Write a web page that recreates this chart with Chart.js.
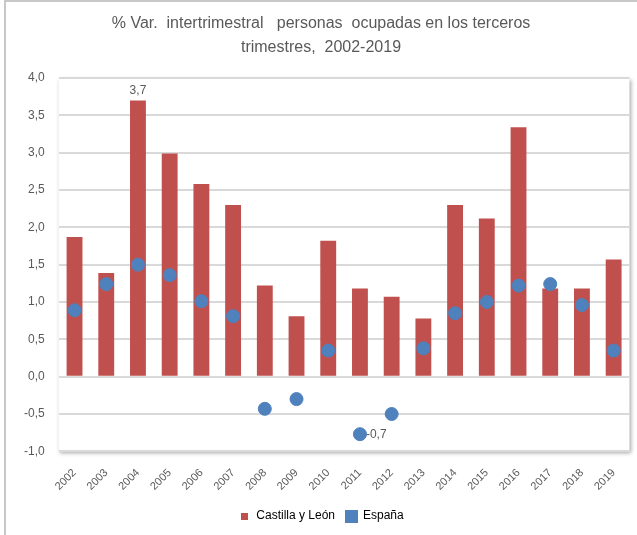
<!DOCTYPE html>
<html>
<head>
<meta charset="utf-8">
<script src="https://cdn.jsdelivr.net/npm/chart.js@4"></script>
<style>
  html, body { margin: 0; padding: 0; background: #fff; }
  #wrap { width: 637px; height: 535px; position: relative; }
</style>
</head>
<body>
<div id="wrap"><canvas id="chart" width="637" height="535"></canvas></div>
<script>
const years = ['2002', '2003', '2004', '2005', '2006', '2007', '2008', '2009', '2010',
  '2011', '2012', '2013', '2014', '2015', '2016', '2017', '2018', '2019'];
const castillaLeon = [1.87, 1.39, 3.70, 2.99, 2.58, 2.30, 1.22, 0.81, 1.82,
  1.18, 1.07, 0.78, 2.30, 2.12, 3.34, 1.18, 1.18, 1.57];
const espana = [0.89, 1.24, 1.50, 1.36, 1.01, 0.81, -0.43, -0.30, 0.35,
  -0.77, -0.50, 0.38, 0.85, 1.00, 1.22, 1.24, 0.96, 0.35];
const yTicks = [-1, -0.5, 0, 0.5, 1, 1.5, 2, 2.5, 3, 3.5, 4];

const colors = {
  bar: '#c0504d',
  dot: '#4f81bd',
  grid: '#d9d9d9',
  text: '#595959'
};

const fontFamily = '"Liberation Sans Narrow", "Liberation Sans", Arial, sans-serif';

function swatch(size, color) {
  const c = document.createElement('canvas');
  c.width = size;
  c.height = size;
  const ctx = c.getContext('2d');
  ctx.fillStyle = color;
  ctx.fillRect(0, 0, size, size);
  return c;
}

// frame, plot-area shadow and the two value labels
const decor = {
  id: 'decor',
  beforeDraw(chart) {
    const { ctx, chartArea: a } = chart;
    ctx.save();
    ctx.strokeStyle = '#c8c8c8';
    ctx.lineWidth = 2;
    ctx.beginPath();
    ctx.moveTo(5, 535);
    ctx.lineTo(5, 1);
    ctx.lineTo(637, 1);
    ctx.stroke();
    ctx.shadowColor = 'rgba(0,0,0,0.35)';
    ctx.shadowBlur = 4;
    ctx.shadowOffsetX = 1;
    ctx.shadowOffsetY = 2;
    ctx.fillStyle = '#fff';
    ctx.fillRect(a.left, a.top, a.right - a.left, a.bottom - a.top);
    ctx.restore();
  },
  afterDatasetsDraw(chart) {
    const { ctx } = chart;
    ctx.save();
    ctx.fillStyle = colors.text;
    ctx.font = '12px ' + fontFamily;
    const bar = chart.getDatasetMeta(0).data[2];
    ctx.textAlign = 'center';
    ctx.textBaseline = 'bottom';
    ctx.fillText('3,7', bar.x, bar.y - 4);
    const pt = chart.getDatasetMeta(1).data[9];
    ctx.textAlign = 'left';
    ctx.textBaseline = 'middle';
    ctx.fillText('-0,7', pt.x + 6, pt.y);
    ctx.restore();
  }
};

new Chart(document.getElementById('chart'), {
  type: 'bar',
  data: {
    labels: years,
    datasets: [
      {
        label: 'Castilla y León',
        data: castillaLeon,
        backgroundColor: colors.bar,
        categoryPercentage: 1,
        barPercentage: 0.5,
        order: 2
      },
      {
        type: 'line',
        label: 'España',
        data: espana,
        showLine: false,
        pointStyle: 'circle',
        pointRadius: 6.5,
        pointBackgroundColor: colors.dot,
        pointBorderColor: colors.dot,
        backgroundColor: colors.dot,
        borderColor: colors.dot,
        order: 1
      }
    ]
  },
  options: {
    responsive: false,
    animation: false,
    layout: { padding: { left: 10, right: 5, top: 8, bottom: 3 } },
    plugins: {
      title: {
        display: true,
        text: ['% Var.  intertrimestral   personas  ocupadas en los terceros', 'trimestres,  2002-2019'],
        color: colors.text,
        font: { family: fontFamily, size: 16, weight: 'normal', lineHeight: 1.5 },
        padding: { top: 4, bottom: 18 }
      },
      legend: {
        position: 'bottom',
        labels: {
          color: colors.text,
          font: { family: fontFamily, size: 12 },
          usePointStyle: true,
          padding: 10,
          generateLabels() {
            return [
              { text: 'Castilla y León', pointStyle: swatch(7, colors.bar), fillStyle: colors.bar, strokeStyle: colors.bar, lineWidth: 0, datasetIndex: 0 },
              { text: 'España', pointStyle: swatch(13, colors.dot), fillStyle: colors.dot, strokeStyle: colors.dot, lineWidth: 0, datasetIndex: 1 }
            ];
          }
        }
      },
      tooltip: { enabled: false }
    },
    scales: {
      x: {
        grid: { display: false },
        border: { display: false },
        ticks: {
          color: colors.text,
          font: { family: fontFamily, size: 11 },
          maxRotation: 45,
          minRotation: 45,
          padding: 7
        }
      },
      y: {
        min: -1,
        max: 4,
        afterBuildTicks(scale) {
          scale.ticks = yTicks.map((v) => ({ value: v }));
        },
        grid: { color: colors.grid, lineWidth: 2, drawTicks: false },
        border: { display: false },
        ticks: {
          color: colors.text,
          font: { family: fontFamily, size: 12 },
          padding: 14,
          callback: (v) => v.toFixed(1).replace('.', ',')
        }
      }
    }
  },
  plugins: [decor]
});
</script>
</body>
</html>
